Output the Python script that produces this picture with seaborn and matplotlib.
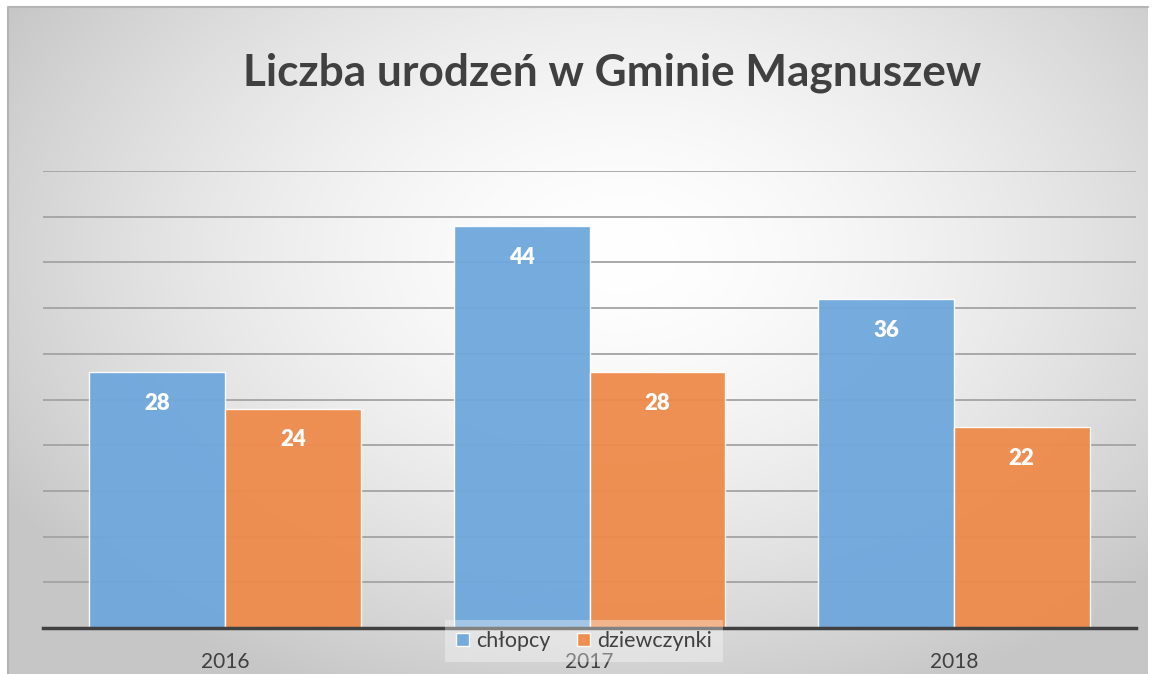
import numpy as np
import pandas as pd
import matplotlib
matplotlib.use('Agg')
import matplotlib.pyplot as plt
import seaborn as sns
from matplotlib.patches import Patch

# Data
years = ['2016', '2017', '2018']
chlopcy = [28, 44, 36]
dziewczynki = [24, 28, 22]
series = ['chłopcy', 'dziewczynki']
colors = ['#6ea7dc', '#ee8a4a']

df = pd.DataFrame({
    'rok': years * 2,
    'liczba': chlopcy + dziewczynki,
    'płeć': [series[0]] * 3 + [series[1]] * 3,
})

sns.set_style('white')
plt.rcParams['font.family'] = ['Lato', 'DejaVu Sans']

W, H = 1152, 674
fig = plt.figure(figsize=(W / 100, H / 100), dpi=100)
fig.patch.set_facecolor('white')

# background panel with radial gradient
bg = fig.add_axes([0, 0, 1, 1], zorder=-5)
bg.set_xlim(0, W)
bg.set_ylim(H, 0)
bg.axis('off')
yy, xx = np.mgrid[0:H, 0:W]
r = np.sqrt(((xx - 620) / 720.0) ** 2 + ((yy - 250) / 480.0) ** 2)
shade = 1 - 0.22 * np.clip(r, 0, 1) ** 1.6
img = np.dstack([shade] * 3)
bg.imshow(img, extent=(8, 1148, H, 7), aspect='auto', interpolation='bilinear')
bg.plot([8, 8, 1148], [H, 7, 7], color='#b4b4b4', lw=1.5)

# main plot area
ax = fig.add_axes([43 / W, 46 / H, 1093 / W, 457 / H])
ax.patch.set_alpha(0)
sns.barplot(data=df, x='rok', y='liczba', hue='płeć', palette=colors,
            width=0.745, alpha=0.95, edgecolor=(1, 1, 1, 0.3), linewidth=1.0,
            saturation=1, ax=ax, legend=False)

ax.set_ylim(0, 50)
ax.set_xlim(-0.5, 2.5)
ax.set_yticks(np.arange(0, 51, 5))
ax.set_axisbelow(True)
ax.grid(axis='y', color='#a3a3a3', lw=1.3)
ax.grid(axis='x', visible=False)
ax.set_xlabel('')
ax.set_ylabel('')
ax.tick_params(axis='y', left=False, labelleft=False)
ax.tick_params(axis='x', length=0, pad=17, labelsize=15, labelcolor='#404040')
for s in ['left', 'right', 'top']:
    ax.spines[s].set_visible(False)
ax.spines['bottom'].set_color('#404040')
ax.spines['bottom'].set_linewidth(2.5)
ax.spines['bottom'].set_zorder(1)

for c in ax.containers:
    ax.bar_label(c, fmt='%d', padding=-30, color='white', fontsize=16,
                 fontweight='heavy')

fig.text(612 / W, 1 - 73 / H, 'Liczba urodzeń w Gminie Magnuszew',
         ha='center', va='center', fontsize=31.8, fontweight='bold', color='#404040')

handles = [Patch(facecolor=colors[i], alpha=0.95, label=series[i]) for i in range(2)]
leg = fig.legend(handles=handles, loc='center', bbox_to_anchor=(584 / W, (H - 641) / H),
                 ncol=2, frameon=True, fontsize=15.5, handlelength=0.6, handleheight=0.6,
                 handletextpad=0.35, columnspacing=1.2, borderpad=0.5,
                 labelcolor='#404040')
leg.get_frame().set_facecolor('white')
leg.get_frame().set_alpha(0.35)
leg.get_frame().set_edgecolor('none')
leg.get_frame().set_boxstyle('square', pad=0)

fig.savefig('out.png', dpi=100)
